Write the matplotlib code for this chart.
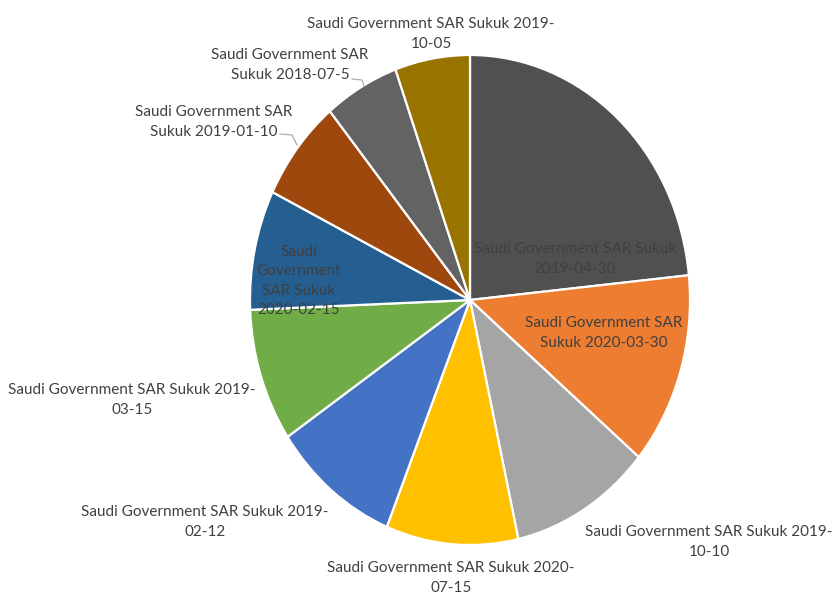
import matplotlib.pyplot as plt
from matplotlib.lines import Line2D

W, H = 833, 596

labels = [
    "Saudi Government SAR Sukuk\n2019-04-30",
    "Saudi Government SAR\nSukuk 2020-03-30",
    "Saudi Government SAR Sukuk 2019-\n10-10",
    "Saudi Government SAR Sukuk 2020-\n07-15",
    "Saudi Government SAR Sukuk 2019-\n02-12",
    "Saudi Government SAR Sukuk 2019-\n03-15",
    "Saudi\nGovernment\nSAR Sukuk\n2020-02-15",
    "Saudi Government SAR\nSukuk 2019-01-10",
    "Saudi Government SAR\nSukuk 2018-07-5",
    "Saudi Government SAR Sukuk 2019-\n10-05",
]
values = [23.4, 12.7, 10.4, 9.7, 9.4, 8.8, 7.9, 6.75, 5.5, 5.5]
colors = ["#505050", "#ED7D31", "#A5A5A5", "#FFC000", "#4472C4",
          "#70AD47", "#255E91", "#9E480E", "#636363", "#997300"]

# label centres in pixels (from top-left)
label_pos = [(575, 259), (604, 333), (709, 542), (451, 578), (205, 522),
             (132, 400), (299, 281), (214, 122), (290, 65), (431, 34)]

plt.rcParams["font.family"] = ["Lato", "DejaVu Sans"]

fig = plt.figure(figsize=(W / 100, H / 100), dpi=100)
cx, cy, rx, ry = 470, 300, 220, 245
ax = fig.add_axes([(cx - rx) / W, 1 - (cy + ry) / H, 2 * rx / W, 2 * ry / H])
ax.pie(values, colors=colors, startangle=90, counterclock=False,
       wedgeprops=dict(edgecolor="white", linewidth=1.6))
ax.set_aspect("auto")
ax.set_xlim(-1, 1)
ax.set_ylim(-1, 1)
ax.axis("off")

for lab, (px, py) in zip(labels, label_pos):
    fig.text(px / W, 1 - py / H, lab, ha="center", va="center",
             fontsize=11, color="#404040", linespacing=1.5)

# leader lines
for pts in ([(352, 79), (362, 80), (364, 86)], [(280, 134), (292, 135), (297, 145)]):
    xs = [p[0] / W for p in pts]
    ys = [1 - p[1] / H for p in pts]
    fig.add_artist(Line2D(xs, ys, color="#A6A6A6", linewidth=0.8))

fig.savefig("out.png", dpi=100)
